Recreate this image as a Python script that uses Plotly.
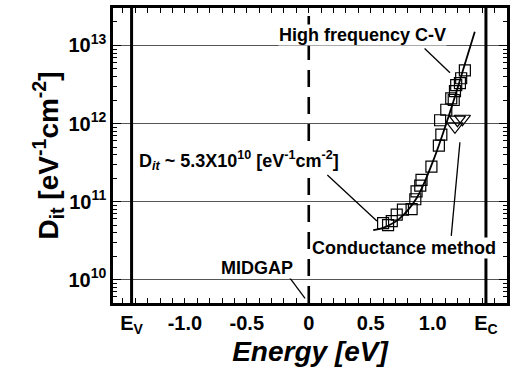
import plotly.graph_objects as go

# ---- data ----
hf_energy = [0.60, 0.64, 0.67, 0.71, 0.76, 0.83, 0.86, 0.87, 0.90, 0.91, 0.99,
             1.05, 1.07, 1.06, 1.11, 1.15, 1.18, 1.19, 1.23, 1.26, 1.22, 1.17]
hf_dit = [5.3e10, 5.0e10, 5.6e10, 6.8e10, 7.9e10, 8.0e10, 1.07e11, 1.35e11, 1.6e11,
          1.9e11, 2.8e11, 5.2e11, 7.2e11, 1.1e12, 1.5e12, 2.1e12, 2.6e12, 3.1e12,
          3.8e12, 4.8e12, 3.3e12, 2.0e12]
cond_energy = [1.18, 1.20, 1.24]
cond_dit = [0.92e12, 1.12e12, 1.15e12]
fit_energy = [0.52, 0.60, 0.73, 0.87, 1.00, 1.14, 1.27, 1.34]
fit_dit = [4.3e10, 4.6e10, 6.0e10, 1.1e11, 3.2e11, 1.4e12, 6.5e12, 1.5e13]
band_edges = [-1.43, 1.43]
midgap = 0.0
x_tickvals = [-1.43, -1.0, -0.5, 0.0, 0.5, 1.0, 1.43]
x_ticktext = ["E<sub>V</sub>", "-1.0", "-0.5", "0", "0.5", "1.0", "E<sub>C</sub>"]
y_tickvals = [1e10, 1e11, 1e12, 1e13]
y_ticktext = ["10<sup>10</sup>", "10<sup>11</sup>", "10<sup>12</sup>", "10<sup>13</sup>"]
y_minor_vals = [m * 10**k for k in (9, 10, 11, 12, 13) for m in (2, 3, 4, 5, 6, 7, 8, 9)]
x_range = [-1.58, 1.60]
y_range_log = [9.70, 13.48]

# annotations: text, x, log10(y)
labels = [
    ("High frequency C-V", 0.43, 13.13, "center"),
    ("D<sub><i>it</i></sub> ~ 5.3X10<sup>10</sup> [eV<sup>-1</sup>cm<sup>-2</sup>]", -1.38, 11.53, "left"),
    ("Conductance method", 0.77, 10.41, "center"),
    ("MIDGAP", -0.42, 10.15, "center"),
]
leaders = [
    ([0.935, 1.14], [10**12.96, 10**12.65]),
    ([0.15, 0.55], [10**11.34, 10**10.75]),
    ([1.15, 1.22], [10**10.56, 10**11.76]),
    ([-0.18, -0.03], [10**10.08, 10**9.76]),
]

FONT = "Liberation Sans"
fig = go.Figure()

# band edges and midgap
for e in band_edges:
    fig.add_trace(go.Scatter(x=[e, e], y=[10**y_range_log[0], 10**y_range_log[1]],
                             mode="lines", line=dict(color="black", width=3),
                             showlegend=False, hoverinfo="skip"))
fig.add_trace(go.Scatter(x=[midgap, midgap], y=[10**y_range_log[0], 10**y_range_log[1]],
                         mode="lines", line=dict(color="black", width=2.6, dash="17px,10px"),
                         showlegend=False, hoverinfo="skip"))

# leader lines
for lx, ly in leaders:
    fig.add_trace(go.Scatter(x=lx, y=ly, mode="lines", line=dict(color="black", width=1.3),
                             showlegend=False, hoverinfo="skip"))

# fit line
fig.add_trace(go.Scatter(x=fit_energy, y=fit_dit, mode="lines", line=dict(color="black", width=1.8, shape="spline"),
                         showlegend=False))
# data
fig.add_trace(go.Scatter(x=hf_energy, y=hf_dit, mode="markers",
                         marker=dict(symbol="square-open", size=11, color="black", line=dict(width=1.2)),
                         showlegend=False))
fig.add_trace(go.Scatter(x=cond_energy, y=cond_dit, mode="markers",
                         marker=dict(symbol="triangle-down-open", size=14, color="black", line=dict(width=1.2)),
                         showlegend=False))

for text, x, ylog, anchor in labels:
    fig.add_annotation(x=x, y=ylog, text=text, showarrow=False, xanchor=anchor, yanchor="middle",
                       font=dict(family=FONT, size=18, color="black", weight="bold"), bgcolor="white",
                       borderpad=0)

fig.update_layout(
    width=529, height=374,
    margin=dict(l=113, r=22, t=5, b=71),
    paper_bgcolor="white", plot_bgcolor="white",
    font=dict(family=FONT, color="black"),
    xaxis=dict(range=x_range, tickmode="array", tickvals=x_tickvals, ticktext=x_ticktext,
               ticks="inside", ticklen=0, showgrid=False, zeroline=False,
               showline=True, linecolor="black", linewidth=2.5, mirror="allticks",
               tickfont=dict(family=FONT, size=20, weight="bold"),
               minor=dict(dtick=0.1, tick0=0, ticks="inside", ticklen=5, tickwidth=1.2,
                          tickcolor="black", showgrid=False),
               title=dict(text="<i>Energy [eV]</i>", font=dict(family=FONT, size=28, weight="bold"), standoff=6)),
    yaxis=dict(type="log", range=y_range_log, tickmode="array", tickvals=y_tickvals, ticktext=y_ticktext,
               ticks="inside", ticklen=8, tickwidth=1.2, tickcolor="black", showgrid=True,
               gridcolor="#555", gridwidth=1,
               zeroline=False, showline=True, linecolor="black", linewidth=2.5, mirror="allticks",
               tickfont=dict(family=FONT, size=20, weight="bold"),
               minor=dict(tickmode="array", tickvals=y_minor_vals, ticks="inside", ticklen=4,
                          tickwidth=1, tickcolor="black", showgrid=False),
               title=dict(text="D<sub>it</sub> [eV<sup>-1</sup>cm<sup>-2</sup>]",
                          font=dict(family=FONT, size=28, weight="bold"), standoff=2)),
)

fig.write_html("out.html")
